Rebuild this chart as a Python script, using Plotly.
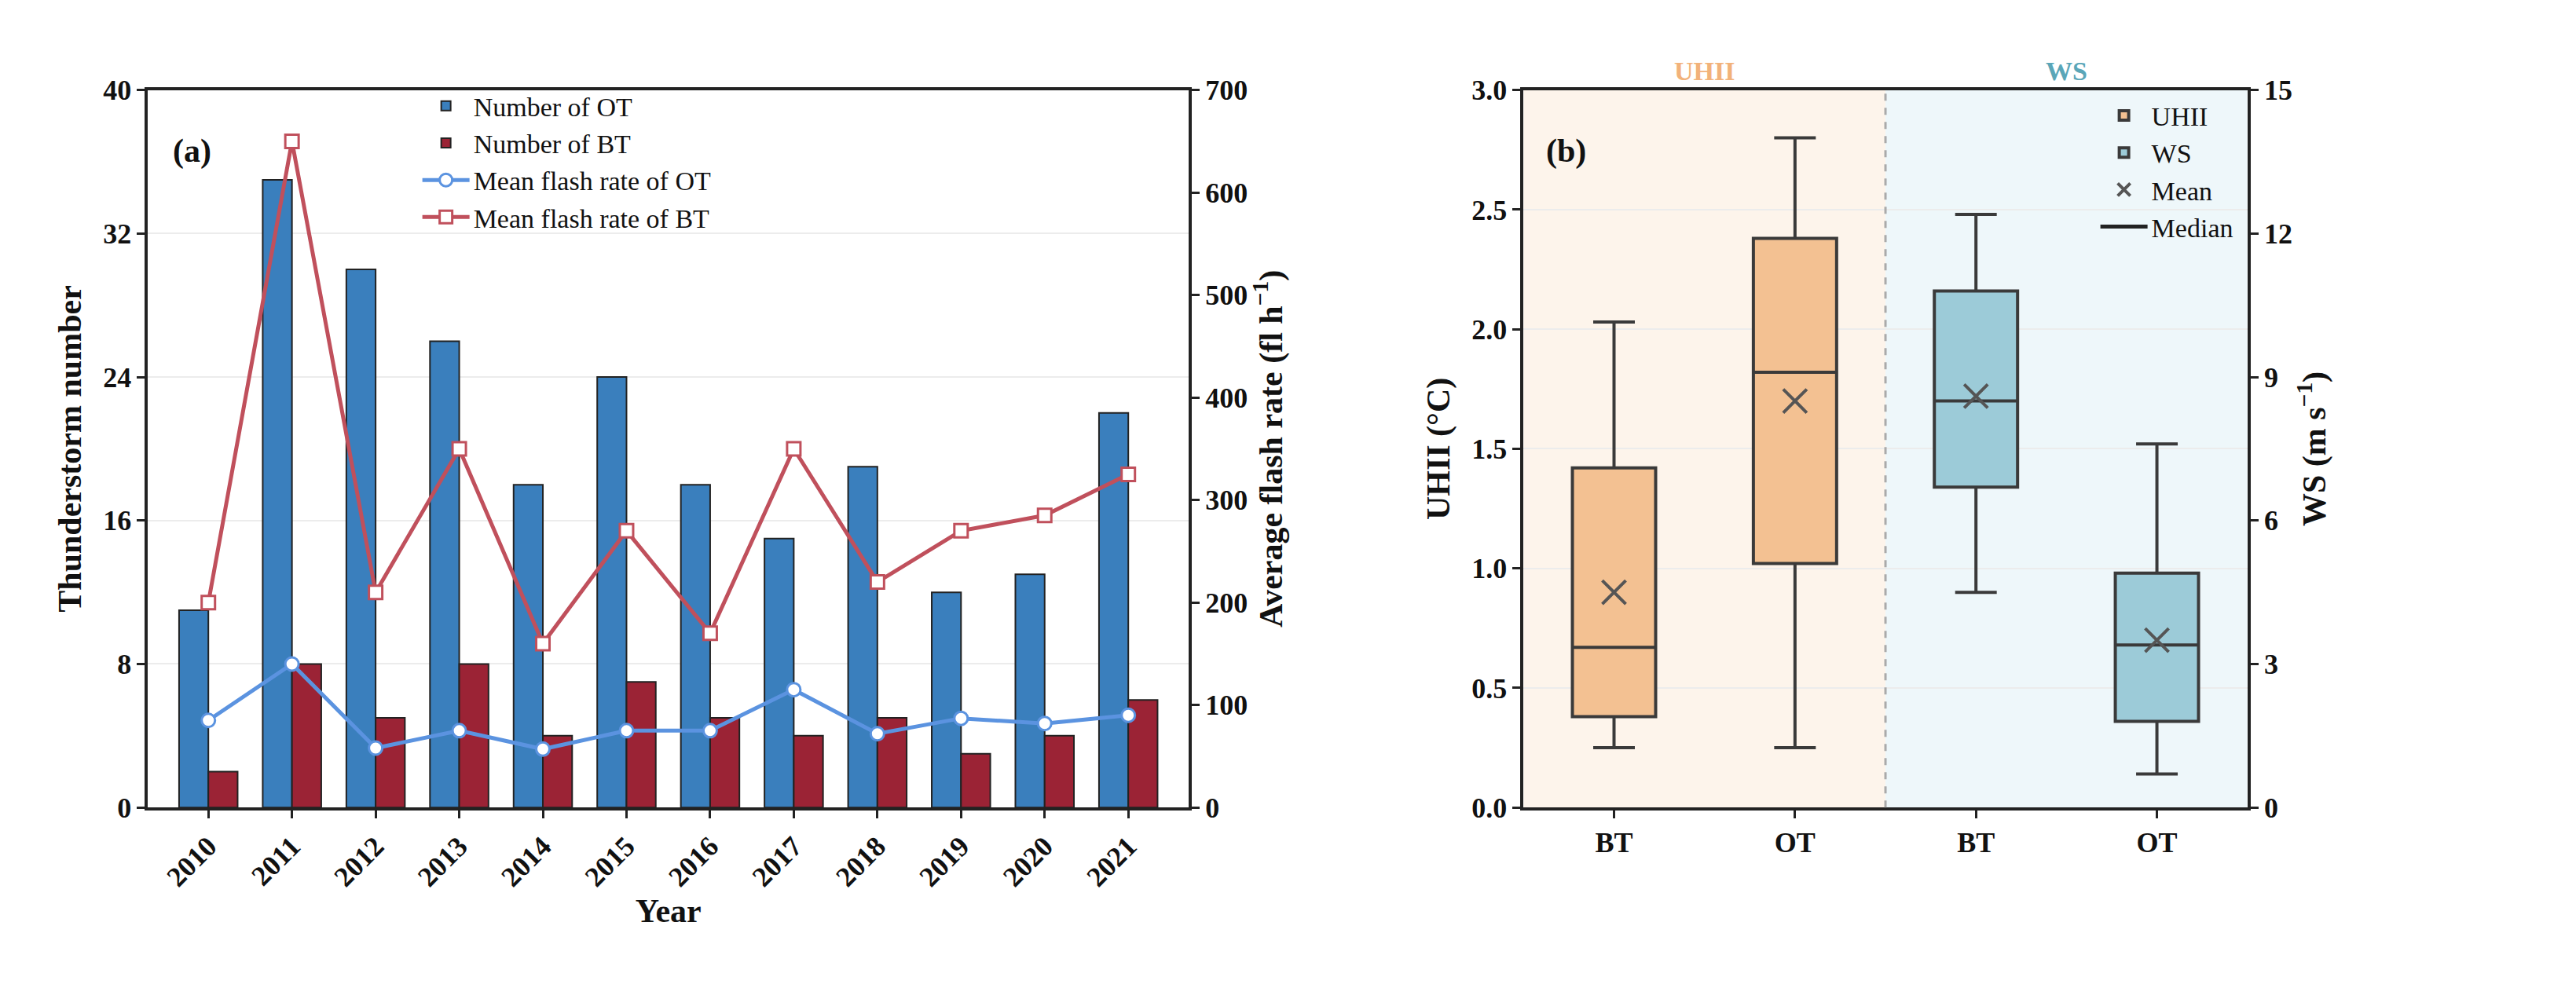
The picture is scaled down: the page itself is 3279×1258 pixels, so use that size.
import plotly.graph_objects as go

years = [str(y) for y in range(2010, 2022)]
n_ot = [11, 35, 30, 26, 18, 24, 18, 15, 19, 12, 13, 22]
n_bt = [2, 8, 5, 8, 4, 7, 5, 4, 5, 3, 4, 6]
fr_ot = [85, 140, 58, 75, 57, 75, 75, 115, 72, 87, 82, 90]
fr_bt = [200, 650, 210, 350, 160, 270, 170, 350, 220, 270, 285, 325]

box_labels = ["BT", "OT", "BT", "OT"]
uhii_stats = {"lf": [0.25, 0.25], "q1": [0.38, 1.02], "med": [0.67, 1.82], "q3": [1.42, 2.38], "uf": [2.03, 2.80], "mean": [0.90, 1.70]}
ws_stats = {"lf": [4.5, 0.7], "q1": [6.7, 1.8], "med": [8.5, 3.4], "q3": [10.8, 4.9], "uf": [12.4, 7.6], "mean": [8.6, 3.5]}

F = "Liberation Serif"
K = "#111"
fig = go.Figure()
fig.add_bar(x=years, y=n_ot, name="Number of OT", marker=dict(color="#3a7fbd", line=dict(color="#222", width=2)),
            offsetgroup="a", xaxis="x", yaxis="y", legend="legend")
fig.add_bar(x=years, y=n_bt, name="Number of BT", marker=dict(color="#9b2335", line=dict(color="#222", width=2)),
            offsetgroup="b", xaxis="x", yaxis="y", legend="legend")
fig.add_scatter(x=years, y=fr_ot, name="Mean flash rate of OT", mode="lines+markers",
                line=dict(color="#5b93e0", width=5), marker=dict(symbol="circle", size=17, color="white", line=dict(color="#5b93e0", width=3)),
                xaxis="x", yaxis="y2", legend="legend")
fig.add_scatter(x=years, y=fr_bt, name="Mean flash rate of BT", mode="lines+markers",
                line=dict(color="#c0505c", width=5), marker=dict(symbol="square", size=17, color="white", line=dict(color="#c0505c", width=3)),
                xaxis="x", yaxis="y2", legend="legend")

def add_box(xpos, st, i, color, yax, name, show):
    fig.add_trace(go.Box(x=[xpos], q1=[st["q1"][i]], median=[st["med"][i]], q3=[st["q3"][i]],
                         lowerfence=[st["lf"][i]], upperfence=[st["uf"][i]], fillcolor=color,
                         line=dict(color="#3a3a3a", width=4), width=0.46, name=name, showlegend=show,
                         xaxis="x3", yaxis=yax, legend="legend2", boxpoints=False))

add_box(0, uhii_stats, 0, "#f3c192", "y3", "UHII", True)
add_box(1, uhii_stats, 1, "#f3c192", "y3", "UHII", False)
add_box(2, ws_stats, 0, "#9ccbd8", "y4", "WS", True)
add_box(3, ws_stats, 1, "#9ccbd8", "y4", "WS", False)
fig.add_scatter(x=[0, 1], y=uhii_stats["mean"], mode="markers", name="Mean",
                marker=dict(symbol="x-thin", size=30, line=dict(color="#555", width=4)), xaxis="x3", yaxis="y3", legend="legend2")
fig.add_scatter(x=[2, 3], y=ws_stats["mean"], mode="markers", showlegend=False,
                marker=dict(symbol="x-thin", size=30, line=dict(color="#555", width=4)), xaxis="x3", yaxis="y4")
fig.add_scatter(x=[None], y=[None], mode="lines", name="Median", line=dict(color="#222", width=5),
                xaxis="x3", yaxis="y3", legend="legend2")

TS = 36
TT = 42
ax = dict(showline=True, linecolor="#222", linewidth=4, ticks="outside", ticklen=10, tickwidth=3, tickcolor="#222",
          tickfont=dict(family=F, size=TS, color=K), zeroline=False)
yd = [0.178, 0.928]
tf = dict(size=TT, family=F, color=K)
fig.update_layout(
    width=3279, height=1258, plot_bgcolor="white", paper_bgcolor="white", margin=dict(l=0, r=0, t=0, b=0),
    font=dict(family=F, color=K), barmode="group", bargap=0.3, bargroupgap=0,
    xaxis=dict(ax, domain=[0.055, 0.459], tickangle=-45, mirror=True, tickvals=years, ticktext=[f"<b>{y}</b>" for y in years],
               title=dict(text="<b>Year</b>", font=tf, standoff=0)),
    yaxis=dict(ax, domain=yd, range=[0, 40], tickvals=[0, 8, 16, 24, 32, 40], ticktext=[f"<b>{v}</b>" for v in [0, 8, 16, 24, 32, 40]],
               showgrid=True, gridcolor="#ececec", gridwidth=2, title=dict(text="<b>Thunderstorm number</b>", font=tf)),
    yaxis2=dict(ax, overlaying="y", side="right", range=[0, 700], tickvals=list(range(0, 701, 100)),
                ticktext=[f"<b>{v}</b>" for v in range(0, 701, 100)], showgrid=False, anchor="x",
                title=dict(text="<b>Average flash rate (fl h<sup>−1</sup>)</b>", font=tf)),
    xaxis3=dict(ax, domain=[0.589, 0.870], range=[-0.5, 3.5], tickvals=[0, 1, 2, 3], ticktext=[f"<b>{t}</b>" for t in box_labels],
                mirror=True, anchor="y3"),
    yaxis3=dict(ax, domain=yd, range=[0, 3], tickvals=[0, 0.5, 1, 1.5, 2, 2.5, 3],
                ticktext=[f"<b>{v:.1f}</b>" for v in [0, 0.5, 1, 1.5, 2, 2.5, 3]], anchor="x3",
                showgrid=True, gridcolor="#ececec", gridwidth=2, title=dict(text="<b>UHII (°C)</b>", font=tf)),
    yaxis4=dict(ax, overlaying="y3", side="right", range=[0, 15], tickvals=[0, 3, 6, 9, 12, 15],
                ticktext=[f"<b>{v}</b>" for v in [0, 3, 6, 9, 12, 15]], anchor="x3", showgrid=False,
                title=dict(text="<b>WS (m s<sup>−1</sup>)</b>", font=tf)),
    legend=dict(x=0.16, y=0.935, xanchor="left", yanchor="top", bgcolor="rgba(0,0,0,0)", font=dict(size=34, family=F, color=K),
                tracegroupgap=0, itemwidth=60),
    legend2=dict(x=0.866, y=0.925, xanchor="right", yanchor="top", bgcolor="rgba(0,0,0,0)", font=dict(size=34, family=F, color=K),
                 itemwidth=60),
    shapes=[
        dict(type="rect", xref="x3", yref="y3 domain", x0=-0.5, x1=1.5, y0=0, y1=1, fillcolor="#fdf4eb", line_width=0, layer="below"),
        dict(type="rect", xref="x3", yref="y3 domain", x0=1.5, x1=3.5, y0=0, y1=1, fillcolor="#eef7fa", line_width=0, layer="below"),
        dict(type="line", xref="x3", yref="y3 domain", x0=1.5, x1=1.5, y0=0, y1=1, line=dict(color="#aaa", width=3, dash="dash")),
    ],
    annotations=[
        dict(text="<b>(a)</b>", xref="paper", yref="paper", x=0.064, y=0.885, showarrow=False, font=dict(size=42, family=F, color=K), xanchor="left"),
        dict(text="<b>(b)</b>", xref="paper", yref="paper", x=0.597, y=0.885, showarrow=False, font=dict(size=42, family=F, color=K), xanchor="left"),
        dict(text="<b>UHII</b>", xref="x3", yref="paper", x=0.5, y=0.965, showarrow=False, font=dict(size=34, family=F, color="#f2b27a")),
        dict(text="<b>WS</b>", xref="x3", yref="paper", x=2.5, y=0.965, showarrow=False, font=dict(size=34, family=F, color="#5aa6b8")),
    ],
)
fig.write_html("out.html")
